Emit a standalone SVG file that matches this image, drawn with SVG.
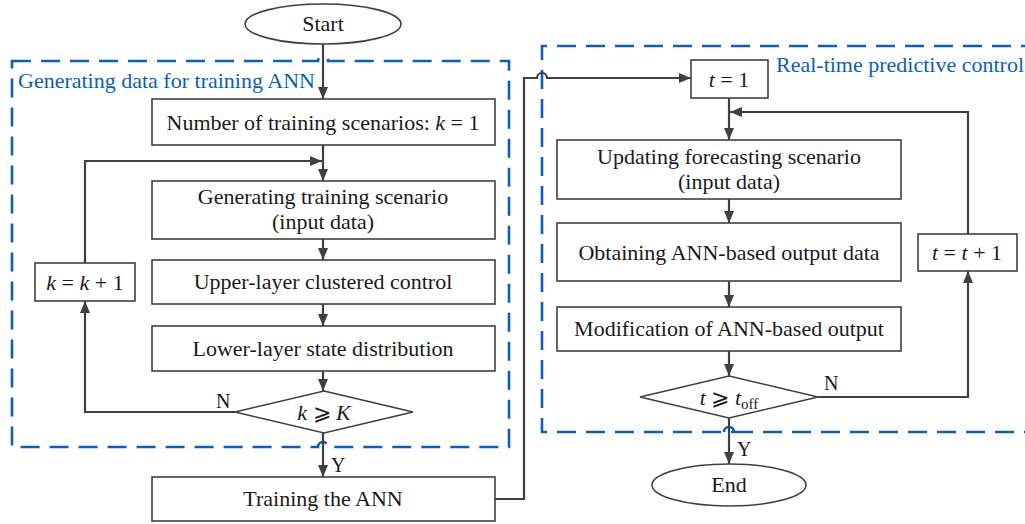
<svg xmlns="http://www.w3.org/2000/svg" width="1025" height="524" viewBox="0 0 1025 524">
<style>
  .box { fill: #ffffff; stroke: #404040; stroke-width: 1.6; }
  .conn { fill: none; stroke: #404040; stroke-width: 2.2; }
  .arr { fill: none; stroke: #404040; stroke-width: 2.2; marker-end: url(#ah); }
  .dash { fill: none; stroke: #0b5fb8; stroke-width: 2.6; stroke-dasharray: 19 10; }
  .t { font-family: "Liberation Serif", "Times New Roman", "DejaVu Serif", serif; font-size: 22px; fill: #1a1a1a; text-anchor: middle; }
  .lab { font-family: "Liberation Serif", "Times New Roman", serif; font-size: 20px; fill: #1a1a1a; }
  .blue { font-family: "Liberation Serif", "Times New Roman", serif; font-size: 22px; fill: #0b5fb8; }
  .i { font-style: italic; }
</style>
<defs>
  <marker id="ah" viewBox="0 0 12 10" refX="12" refY="5" markerWidth="12" markerHeight="10" markerUnits="userSpaceOnUse" orient="auto">
    <path d="M0,0 L12,5 L0,10 Z" fill="#404040"/>
  </marker>
</defs>
<rect width="1025" height="524" fill="#ffffff"/>

<g id="regions">
  <path class="dash" d="M12,61 H318 A5,5 0 0 1 328,61 H509 V447 H328 A5,5 0 0 0 318,447 H12 Z"/>
  <text class="blue" x="18" y="88">Generating data for training ANN</text>
  <path class="dash" d="M1040,46 H542 V432 H734 A5,5 0 0 0 724,432 M734,432 H1040"/>
  <text class="blue" x="776" y="72">Real-time predictive control</text>
</g>

<g id="connectors">
  <path class="arr" d="M323,44 V99"/>
  <path class="arr" d="M323,145 V181"/>
  <path class="arr" d="M85,263 V161 H322"/>
  <path class="arr" d="M323,239 V260"/>
  <path class="arr" d="M323,304 V326"/>
  <path class="arr" d="M323,371 V391"/>
  <path class="arr" d="M235,412 H85 V301"/>
  <path class="arr" d="M323,433 V477"/>
  <path class="arr" d="M495,499 H524 V78 H537 A5,5 0 0 1 547,78 H691"/>
  <path class="arr" d="M729,98 V140"/>
  <path class="arr" d="M968,234 V112 H730"/>
  <path class="arr" d="M729,199 V223"/>
  <path class="arr" d="M729,281 V307"/>
  <path class="arr" d="M729,351 V376"/>
  <path class="arr" d="M818,397 H968 V271"/>
  <path class="arr" d="M729,418 V464"/>
  <text class="lab" x="216" y="408">N</text>
  <text class="lab" x="331" y="472">Y</text>
  <text class="lab" x="824" y="390">N</text>
  <text class="lab" x="737" y="456">Y</text>
</g>

<g id="start">
  <ellipse class="box" cx="323" cy="24" rx="78" ry="20"/>
  <text class="t" x="323" y="31">Start</text>
</g>
<g id="init-k">
  <rect class="box" x="152" y="99" width="343" height="46"/>
  <text class="t" x="323" y="130">Number of training scenarios: <tspan class="i">k</tspan> = 1</text>
</g>
<g id="gen-scenario">
  <rect class="box" x="152" y="181" width="343" height="58"/>
  <text class="t" x="323" y="204">Generating training scenario</text>
  <text class="t" x="323" y="229">(input data)</text>
</g>
<g id="upper">
  <rect class="box" x="152" y="260" width="343" height="44"/>
  <text class="t" x="323" y="289">Upper-layer clustered control</text>
</g>
<g id="lower">
  <rect class="box" x="152" y="326" width="343" height="45"/>
  <text class="t" x="323" y="356">Lower-layer state distribution</text>
</g>
<g id="check-k">
  <polygon class="box" points="324,391 413,412 324,433 235,412"/>
  <text class="t" x="324" y="420"><tspan class="i">k</tspan> ⩾ <tspan class="i">K</tspan></text>
</g>
<g id="inc-k">
  <rect class="box" x="35" y="263" width="100" height="38"/>
  <text class="t" x="85" y="290"><tspan class="i">k</tspan> = <tspan class="i">k</tspan> + 1</text>
</g>
<g id="train">
  <rect class="box" x="152" y="477" width="343" height="44"/>
  <text class="t" x="323" y="506">Training the ANN</text>
</g>
<g id="init-t">
  <rect class="box" x="691" y="60" width="77" height="38"/>
  <text class="t" x="729" y="87"><tspan class="i">t</tspan> = 1</text>
</g>
<g id="update">
  <rect class="box" x="557" y="140" width="344" height="59"/>
  <text class="t" x="729" y="164">Updating forecasting scenario</text>
  <text class="t" x="729" y="189">(input data)</text>
</g>
<g id="obtain">
  <rect class="box" x="557" y="223" width="344" height="58"/>
  <text class="t" x="729" y="260">Obtaining ANN-based output data</text>
</g>
<g id="modify">
  <rect class="box" x="557" y="307" width="344" height="44"/>
  <text class="t" x="729" y="336">Modification of ANN-based output</text>
</g>
<g id="check-t">
  <polygon class="box" points="729,376 818,397 729,418 640,397"/>
  <text class="t" x="729" y="405"><tspan class="i">t</tspan> ⩾ <tspan class="i">t</tspan><tspan font-size="15" dy="4">off</tspan></text>
</g>
<g id="inc-t">
  <rect class="box" x="918" y="234" width="99" height="37"/>
  <text class="t" x="967" y="260"><tspan class="i">t</tspan> = <tspan class="i">t</tspan> + 1</text>
</g>
<g id="end">
  <ellipse class="box" cx="729" cy="485" rx="77" ry="21"/>
  <text class="t" x="729" y="492">End</text>
</g>
</svg>
